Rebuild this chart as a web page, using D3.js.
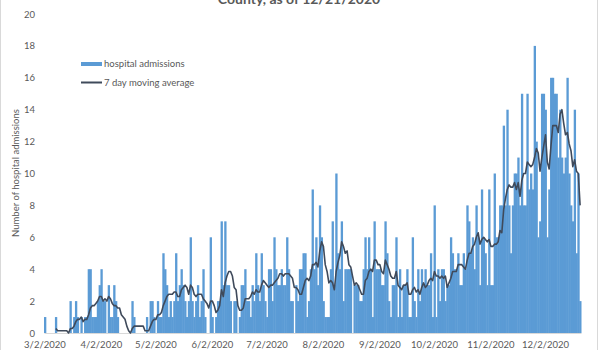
<!DOCTYPE html>
<html>
<head>
<meta charset="utf-8">
<script src="https://cdn.jsdelivr.net/npm/d3@7"></script>
<style>
  html, body { margin: 0; padding: 0; background: #fff; }
  svg { display: block; }
  text { font-family: Lato, "Liberation Sans", sans-serif; fill: #595959; }
</style>
</head>
<body>
<script>
// Daily hospital admissions, 3/2/2020 through 12/21/2020, one array per month
const startDate = "2020-03-02";
const mar = [1,0,0,0,0,0,1,0,0,0, 0,0,0,0,2,0,1,2,1,0, 1,0,1,1,4,4,1,1,1,2];
const apr = [3,4,2,2,0,3,1,1,3,2, 1,0,0,0,0,0,0,0,2,1, 0,0,0,0,0,0,1,0,2,2];
const may = [1,0,2,1,1,5,4,3,1,2, 1,2,5,2,3,4,3,2,1,2, 6,2,1,2,3,1,2,4,1,0, 0];
const jun = [6,1,0,1,2,2,7,3,7, 3,3,2,0,2,2,0,1,3,3, 4,2,2,1,3,2,5,3,2,5, 3];
const jul = [2,1,4,4,2,6,4,3,3, 4,3,3,6,4,2,2,0,3,2, 4,4,5,5,1,2,4,9,4,6, 3,8];
const aug = [6,2,1,1,1,4,7,3, 10,5,4,7,2,4,4,4,4,0, 3,3,3,2,2,4,6,4,6,4, 1,7,4];
const sep = [4,4,3,3,7,5,2, 1,3,3,6,1,4,1,3,3,4, 1,1,6,2,1,4,2,4,3,4, 3,3,5];
const oct = [1,8,1,4,2,4,4, 2,3,3,6,5,4,4,5,3,3, 5,4,8,7,5,6,4,8,6,3, 9,6,5,3];
const nov = [9,3,3,10,6,6, 8,8,13,8,14,8,5,8,10,10, 11,8,15,8,8,15,9,10,9,18, 12,6,7,15];
const dec = [15,14,6,9,16,16, 15,15,11,14,11,10,11,16,10,8, 7,14,5,10,2];

const xTickLabels = ["3/2/2020","4/2/2020","5/2/2020","6/2/2020","7/2/2020",
                     "8/2/2020","9/2/2020","10/2/2020","11/2/2020","12/2/2020"];
const yTickValues = [0,2,4,6,8,10,12,14,16,18,20];
const titleText = "County, as of 12/21/2020";
const yTitle = "Number of hospital admissions";
const legendLabels = ["hospital admissions", "7 day moving average"];
const maWindow = 7;

const admissions = [].concat(mar, apr, may, jun, jul, aug, sep, oct, nov, dec);
const fmt = d3.timeFormat("%-m/%-d/%Y");
const day0 = d3.timeParse("%Y-%m-%d")(startDate);
const rows = admissions.map((v, i) => ({ date: fmt(d3.timeDay.offset(day0, i)), value: v }));

// trailing 7-day moving average, starting with the 7th day
const maRows = rows.slice(maWindow - 1).map((r, k) => ({
  date: r.date,
  value: d3.mean(rows.slice(k, k + maWindow), d => d.value)
}));

const W = 600, H = 350;
const svg = d3.select("body").append("svg").attr("width", W).attr("height", H);

// chart frame
svg.append("rect")
  .attr("x", 0.5).attr("y", -10).attr("width", 597).attr("height", H + 20)
  .attr("fill", "#fff").attr("stroke", "#d9d9d9");

const x = d3.scaleBand().domain(rows.map(d => d.date)).range([44, 581]).paddingInner(0).paddingOuter(0);
const y = d3.scaleLinear().domain([0, 20]).range([333, 14]);

// title (second line, partly above the frame)
svg.append("text")
  .attr("x", 299).attr("y", 4)
  .attr("text-anchor", "middle")
  .style("font-size", "14px")
  .style("font-weight", "bold")
  .text(titleText);

// bars (slightly widened so neighbouring columns join without seams)
svg.append("g").selectAll("rect").data(rows).join("rect")
  .attr("x", d => x(d.date))
  .attr("width", x.bandwidth() + 0.5)
  .attr("y", d => y(d.value))
  .attr("height", d => y(0) - y(d.value))
  .attr("fill", "#5b9bd5");

// y axis labels
const yAxis = svg.append("g").attr("transform", "translate(44,0)")
  .call(d3.axisLeft(y).tickValues(yTickValues).tickSize(0).tickPadding(9));
yAxis.select(".domain").remove();
yAxis.selectAll("text").style("font-size", "9.5px").style("fill", "#595959");

// x axis
const xAxis = svg.append("g").attr("transform", "translate(0,333)")
  .call(d3.axisBottom(x).tickValues(xTickLabels).tickSize(0).tickSizeOuter(0).tickPadding(8));
xAxis.select(".domain").attr("stroke", "#d9d9d9");
xAxis.selectAll("text").style("font-size", "9.5px").style("fill", "#595959");

// moving average line
svg.append("path")
  .datum(maRows)
  .attr("fill", "none")
  .attr("stroke", "#3f4a5b")
  .attr("stroke-width", 1.6)
  .attr("stroke-linejoin", "round")
  .attr("d", d3.line().x(d => x(d.date) + x.bandwidth() / 2).y(d => y(d.value)));

// y axis title
svg.append("text")
  .attr("transform", "translate(19,173) rotate(-90)")
  .attr("text-anchor", "middle")
  .style("font-size", "9.5px")
  .text(yTitle);

// legend
const lg = svg.append("g");
lg.append("rect").attr("x", 81).attr("y", 62).attr("width", 21).attr("height", 4).attr("fill", "#5b9bd5");
lg.append("text").attr("x", 104).attr("y", 64).attr("dy", "0.35em").style("font-size", "9.5px").text(legendLabels[0]);
lg.append("line").attr("x1", 81).attr("x2", 102).attr("y1", 82.5).attr("y2", 82.5)
  .attr("stroke", "#3f4a5b").attr("stroke-width", 2);
lg.append("text").attr("x", 104).attr("y", 83).attr("dy", "0.35em").style("font-size", "9.5px").text(legendLabels[1]);
</script>
</body>
</html>
